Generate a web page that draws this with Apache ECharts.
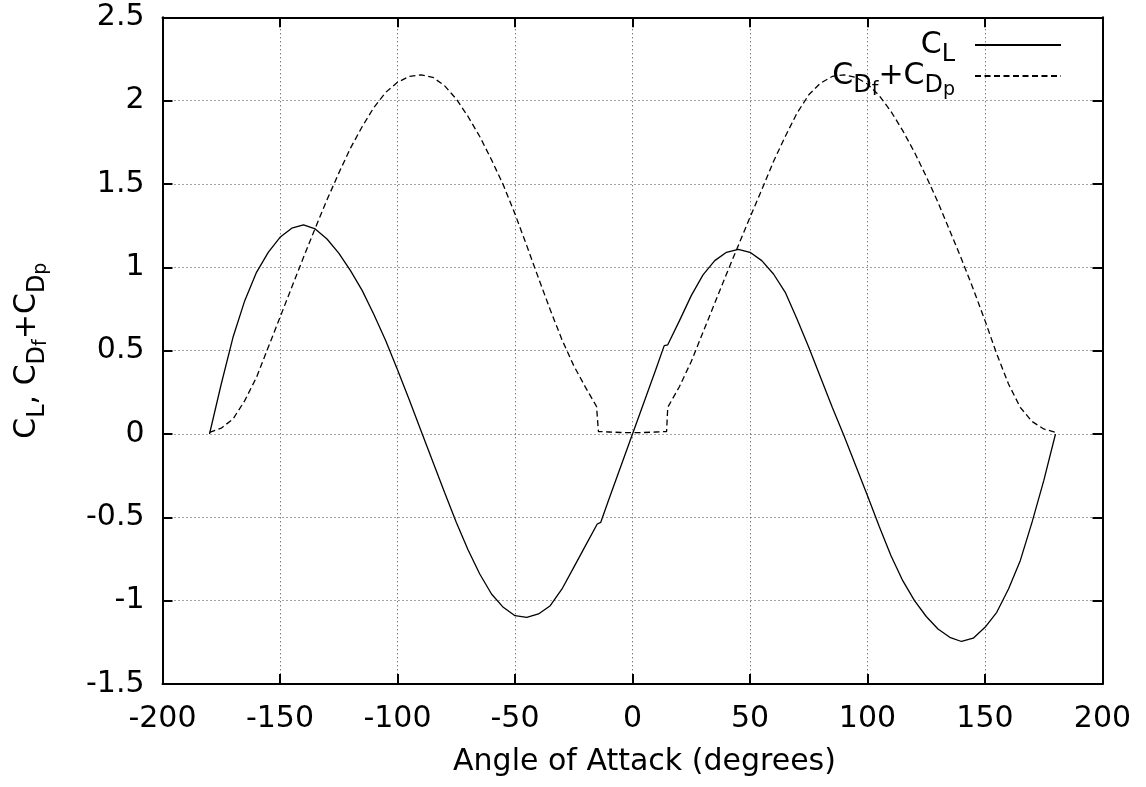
<!DOCTYPE html>
<html><head><meta charset="utf-8">
<script src="https://cdn.jsdelivr.net/npm/echarts@6/dist/echarts.min.js"></script>
<style>html,body{margin:0;padding:0;background:#fff}#c{width:1146px;height:787px}</style>
</head><body><div id="c"></div><script>
const xTicks = { min: -200, max: 200, interval: 50 };
const yTicks = { min: -1.5, max: 2.5, interval: 0.5 };

const alphaCL = [-180,-175,-170,-165,-160,-155,-150,-145,-140,-135,-130,-125,-120,-115,-110,-105,-100,-95,-90,-85,-80,-75,-70,-65,-60,-55,-50,-45,-40,-35,-30,-25,-20,-15,-13.5,-10,-5,0,5,10,13.5,15,20,25,30,35,40,45,50,55,60,65,70,75,80,85,90,95,100,105,110,115,120,125,130,135,140,145,150,155,160,165,170,175,180];
const cl = [0,0.30,0.58,0.80,0.97,1.09,1.18,1.235,1.255,1.23,1.17,1.085,0.98,0.86,0.715,0.56,0.385,0.205,0.02,-0.165,-0.35,-0.53,-0.695,-0.84,-0.96,-1.04,-1.09,-1.10,-1.08,-1.03,-0.93,-0.80,-0.67,-0.54,-0.53,-0.39,-0.195,0,0.195,0.39,0.53,0.535,0.68,0.83,0.955,1.04,1.09,1.108,1.09,1.04,0.96,0.85,0.69,0.52,0.34,0.16,-0.01,-0.19,-0.37,-0.555,-0.73,-0.88,-1.0,-1.095,-1.17,-1.22,-1.245,-1.225,-1.16,-1.07,-0.93,-0.76,-0.53,-0.28,0];

const alphaCD = [-180,-175,-170,-165,-160,-155,-150,-145,-140,-135,-130,-125,-120,-115,-110,-105,-100,-95,-90,-85,-80,-75,-70,-65,-60,-55,-50,-45,-40,-35,-30,-25,-20,-15.3,-14.5,-10,-5,0,5,10,14.5,15,20,25,30,35,40,45,50,55,60,65,70,75,80,85,90,95,100,105,110,115,120,125,130,135,140,145,150,155,160,165,170,175,180];
const cd = [0.01,0.035,0.09,0.20,0.34,0.52,0.70,0.88,1.06,1.235,1.405,1.565,1.715,1.845,1.96,2.05,2.11,2.145,2.155,2.14,2.09,2.01,1.905,1.785,1.645,1.495,1.32,1.13,0.935,0.745,0.565,0.41,0.28,0.165,0.015,0.012,0.009,0.008,0.009,0.012,0.015,0.16,0.285,0.435,0.61,0.785,0.96,1.13,1.30,1.465,1.635,1.785,1.925,2.035,2.105,2.145,2.155,2.14,2.10,2.03,1.935,1.82,1.69,1.545,1.39,1.22,1.05,0.87,0.68,0.48,0.30,0.16,0.075,0.03,0.01];

const seriesNames = ['CL', 'CD'];
const FONT = 'DejaVu Sans';
const rich = {
  m: { fontFamily: FONT, fontSize: 30, lineHeight: 30, color: '#000' },
  s: { fontFamily: FONT, fontSize: 24, lineHeight: 30, padding: [20, 0, 0, 0], color: '#000' },
  ss: { fontFamily: FONT, fontSize: 19, lineHeight: 30, padding: [28, 0, 0, 0], color: '#000' },
  sR: { fontFamily: FONT, fontSize: 24, lineHeight: 30, padding: [20, 15, 0, 0], color: '#000' },
  ssR: { fontFamily: FONT, fontSize: 19, lineHeight: 30, padding: [28, 15, 0, 0], color: '#000' }
};
const legendLabel = {
  CL: '{m|C}{sR|L}',
  CD: '{m|C}{s|D}{ss|f}{m|+C}{s|D}{ssR|p}'
};
const yName = '{m|C}{s|L}{m|, C}{s|D}{ss|f}{m|+C}{s|D}{ss|p}';

const chart = echarts.init(document.getElementById('c'), null, { renderer: 'canvas' });
const gridLine = { show: true, lineStyle: { type: [1, 3], color: '#444', width: 1 } };
const axisLine = { show: true, onZero: false, lineStyle: { color: '#000', width: 2 } };
const axisTick = { show: true, inside: true, length: 10, lineStyle: { color: '#000', width: 2 } };

function legendFor(name, top) {
  return {
    orient: 'vertical', right: 84, top: top, align: 'right',
    itemWidth: 86, itemHeight: 2, itemGap: 0, padding: 0,
    selectedMode: false,
    data: [name],
    itemStyle: { color: 'rgba(0,0,0,0)', borderWidth: 0, opacity: 0 },
    formatter: n => legendLabel[n],
    textStyle: { fontFamily: FONT, fontSize: 30, color: '#000', rich: rich }
  };
}

chart.setOption({
  animation: false,
  backgroundColor: '#fff',
  grid: { left: 162.5, right: 43.5, top: 17.3, bottom: 103, containLabel: false, outerBoundsMode: 'none' },
  legend: [legendFor('CL', 23), legendFor('CD', 52.5)],
  xAxis: [
    { type: 'value', position: 'bottom', min: xTicks.min, max: xTicks.max, interval: xTicks.interval,
      axisLine, axisTick, splitLine: gridLine,
      axisLabel: { color: '#000', fontFamily: FONT, fontSize: 30, margin: 20 },
      name: 'Angle of Attack (degrees)', nameLocation: 'middle', nameGap: 63,
      nameTextStyle: { color: '#000', fontFamily: FONT, fontSize: 30, padding: [0, 0, 0, 24] } },
    { type: 'value', position: 'top', min: xTicks.min, max: xTicks.max, interval: xTicks.interval,
      axisLine, axisTick, splitLine: { show: false }, axisLabel: { show: false } }
  ],
  yAxis: [
    { type: 'value', position: 'left', min: yTicks.min, max: yTicks.max, interval: yTicks.interval,
      axisLine, axisTick, splitLine: gridLine,
      axisLabel: { color: '#000', fontFamily: FONT, fontSize: 30, margin: 18 },
      name: yName, nameLocation: 'middle', nameGap: 120, nameRotate: 90,
      nameTextStyle: { color: '#000', fontFamily: FONT, fontSize: 30, rich: rich } },
    { type: 'value', position: 'right', min: yTicks.min, max: yTicks.max, interval: yTicks.interval,
      axisLine, axisTick, splitLine: { show: false }, axisLabel: { show: false } }
  ],
  series: [
    { name: seriesNames[0], type: 'line', symbol: 'none', showSymbol: false,
      data: alphaCL.map((a, i) => [a, cl[i]]),
      lineStyle: { color: '#000', width: 1.3, type: 'solid' }, itemStyle: { color: '#000' } },
    { name: seriesNames[1], type: 'line', symbol: 'none', showSymbol: false,
      data: alphaCD.map((a, i) => [a, cd[i]]),
      lineStyle: { color: '#000', width: 1.3, type: [6, 3.5] }, itemStyle: { color: '#000' } }
  ]
});
</script></body></html>
